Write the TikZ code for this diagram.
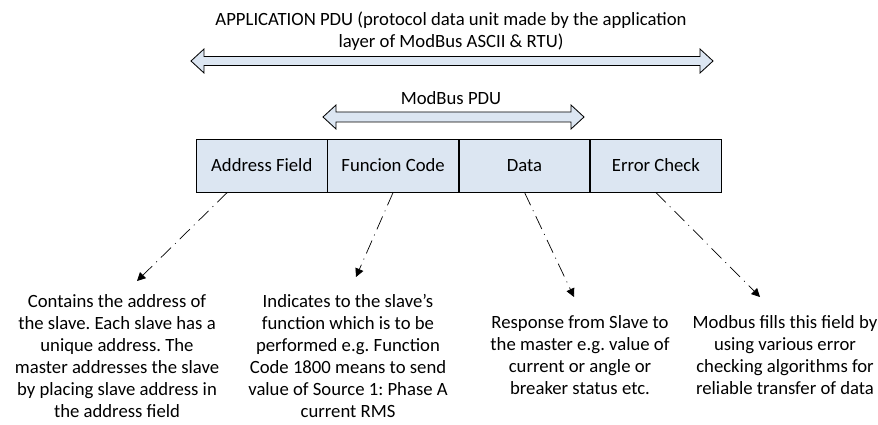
\documentclass[tikz,border=0pt]{standalone}
\usepackage{fontspec}
\setmainfont{Carlito}
\usepackage{tikz}
\usetikzlibrary{positioning,arrows.meta}
\usepackage{xcolor}
\definecolor{fieldblue}{RGB}{220,230,242}
\frenchspacing

\begin{document}
\begin{tikzpicture}[x=0.025cm,y=-0.025cm,font=\fontsize{13.3}{15.7}\selectfont]
    \tikzstyle{field} = [rectangle, draw, fill=fieldblue, line width=0.6pt,
    minimum width=3.2625cm, minimum height=1.325cm, inner sep=0pt]
    \tikzstyle{note} = [align=center, inner sep=0pt]
    \tikzstyle{blockarrow} = [draw, fill=fieldblue, line width=0.6pt]
    \tikzstyle{pointer} = [draw, line width=0.5pt,
    dash pattern=on 10pt off 4pt on 0.7pt off 4pt,
    -{Triangle[length=6pt,width=6pt]}]

    \useasboundingbox (0,0) rectangle (878,425);

    % Define labels on top
    \node[note] (app) at (451,31) {APPLICATION PDU (protocol data unit made by the application\\
      layer of ModBus ASCII \& RTU)};
    \node[note] (pdu) at (451,98) {ModBus PDU};

    % Define block arrows
    \draw[blockarrow] (191,61) -- ++(13,-12) -- ++(0,7.5) -- (700,56.5) -- ++(0,-7.5)
      -- (713,61) -- ++(-13,12) -- ++(0,-7.5) -- (204,65.5) -- ++(0,7.5) -- cycle;
    \draw[blockarrow] (323,117) -- ++(13,-12) -- ++(0,7) -- (571,112) -- ++(0,-7)
      -- (584,117) -- ++(-13,12) -- ++(0,-7) -- (336,122) -- ++(0,7) -- cycle;

    % Define frame fields
    \node[field] (addr) at (261.75,165.5) {Address Field};
    \node[field, right=0pt of addr] (func) {Funcion Code};
    \node[field, right=0pt of func] (data) {Data};
    \node[field, right=0pt of data] (check) {Error Check};

    % Define notes
    \node[note] (addrnote) at (117,356) {Contains the address of\\
      the slave. Each slave has a\\
      unique address. The\\
      master addresses the slave\\
      by placing slave address in\\
      the address field};
    \node[note] (funcnote) at (348,356) {Indicates to the slave’s\\
      function which is to be\\
      performed e.g. Function\\
      Code 1800 means to send\\
      value of Source 1: Phase A\\
      current RMS};
    \node[note] (datanote) at (580,355) {Response from Slave to\\
      the master e.g. value of\\
      current or angle or\\
      breaker status etc.};
    \node[note] (checknote) at (785,355) {Modbus fills this field by\\
      using various error\\
      checking algorithms for\\
      reliable transfer of data};

    % Pointers
    \coordinate (addrend) at (137,281);
    \coordinate (funcend) at (356,277);
    \coordinate (dataend) at (574,297);
    \coordinate (checkend) at (760,297);
    \draw[pointer] ([xshift=-0.86cm]addr.south) -- (addrend);
    \draw[pointer] (func.south) -- (funcend);
    \draw[pointer] (data.south) -- (dataend);
    \draw[pointer] (check.south) -- (checkend);

  \end{tikzpicture}
\end{document}
